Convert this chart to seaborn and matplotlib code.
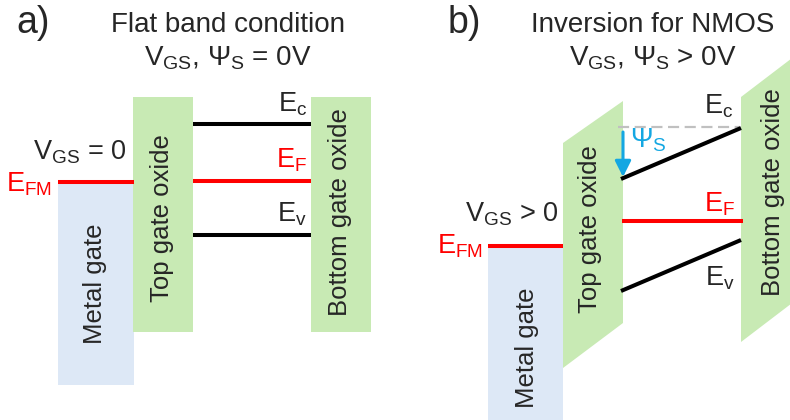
import matplotlib
matplotlib.use("Agg")
import matplotlib.pyplot as plt
import seaborn as sns

sns.set_theme(style="white")
plt.rcParams["font.family"] = ["Liberation Sans", "DejaVu Sans"]
plt.rcParams["mathtext.fontset"] = "custom"
plt.rcParams["mathtext.rm"] = "Liberation Sans"
plt.rcParams["mathtext.it"] = "Liberation Sans"
plt.rcParams["mathtext.bf"] = "Liberation Sans:bold"

# ---------------- data (diagram units: x to the right, y downward) ----------------
# panel a : flat band
a_metal_x = [58, 134]
a_metal_y = [182, 385]
a_topox_x = [133, 193]
a_topox_y = [97, 332]
a_botox_x = [311, 371]
a_botox_y = [97, 332]
a_channel_x = [193, 311]
a_ec = [124, 124]
a_ef = [181, 181]
a_ev = [235, 235]
a_efm = [182, 182]

# panel b : inversion
b_metal_x = [488, 563]
b_metal_y = [246, 430]
b_topox_x = [563, 623, 623, 563]
b_topox_y = [143, 101, 323, 368]
b_botox_x = [741, 800, 800, 741]
b_botox_y = [97, 52, 297, 342]
b_channel_x = [621, 741]
b_ef_x = [622, 743]
b_ec = [179, 128]
b_ef = [221, 221]
b_ev = [291, 240]
b_efm = [246, 246]
b_ref_x = [618, 740]
b_ref_y = [127, 127]
b_psi_arrow_y = [132, 177]

titles = ["Flat band condition", "Inversion for NMOS"]
subtitles = [r"V$_{\mathregular{GS}}$, Ψ$_{\mathregular{S}}$ = 0V",
             r"V$_{\mathregular{GS}}$, Ψ$_{\mathregular{S}}$ > 0V"]
vgs_labels = [r"V$_{\mathregular{GS}}$ = 0", r"V$_{\mathregular{GS}}$ > 0"]

BLUE_FILL = "#dde8f6"
GREEN_FILL = "#c8eab4"
RED = "#ff0000"
CYAN = "#14a7e2"
LW = 2.9

fig = plt.figure(figsize=(7.9, 4.2), dpi=100)
ax = fig.add_axes([0, 0, 1, 1])
ax.set_xlim(0, 790)
ax.set_ylim(420, 0)
ax.axis("off")

def rect(xs, ys, color):
    ax.fill([xs[0], xs[1], xs[1], xs[0]], [ys[0], ys[0], ys[1], ys[1]],
            color=color, lw=0, zorder=1)

def hline(xs, ys, color):
    sns.lineplot(x=xs, y=ys, color=color, linewidth=LW, ax=ax, legend=False,
                 zorder=3, solid_capstyle="butt")

# ---- panel a ----
rect(a_metal_x, a_metal_y, BLUE_FILL)
rect(a_topox_x, a_topox_y, GREEN_FILL)
rect(a_botox_x, a_botox_y, GREEN_FILL)
hline(a_metal_x, a_efm, RED)
hline(a_channel_x, a_ec, "black")
hline(a_channel_x, a_ef, RED)
hline(a_channel_x, a_ev, "black")

# ---- panel b ----
rect(b_metal_x, b_metal_y, BLUE_FILL)
ax.fill(b_topox_x, b_topox_y, color=GREEN_FILL, lw=0, zorder=1)
ax.fill(b_botox_x, b_botox_y, color=GREEN_FILL, lw=0, zorder=1)
hline(b_metal_x, b_efm, RED)
hline(b_channel_x, b_ec, "black")
hline(b_ef_x, b_ef, RED)
hline(b_channel_x, b_ev, "black")
sns.lineplot(x=b_ref_x, y=b_ref_y, color="#c0c0c0", linewidth=1.6, ax=ax,
             legend=False, zorder=2, dashes=False)
ax.lines[-1].set_dashes([5, 2.5])
ax.annotate("", xy=(623, b_psi_arrow_y[1]), xytext=(623, b_psi_arrow_y[0]),
            arrowprops=dict(arrowstyle="-|>,head_length=0.8,head_width=0.4",
                            color=CYAN, lw=2.2, shrinkA=0, shrinkB=0), zorder=4)

# ---- texts ----
FS_T = 20
FS_L = 19.5
FS_R = 18.5
for cx, t, s in [(228, titles[0], subtitles[0]), (653, titles[1], subtitles[1])]:
    ax.text(cx, 32, t, fontsize=FS_T, ha="center", va="baseline")
    ax.text(cx, 65, s, fontsize=FS_T, ha="center", va="baseline")
ax.text(16, 33, "a)", fontsize=27, ha="left", va="baseline")
ax.text(448, 33, "b)", fontsize=27, ha="left", va="baseline")

# panel a labels
ax.text(33, 160, vgs_labels[0], fontsize=FS_L, ha="left", va="baseline")
ax.text(52, 191, r"E$_{\mathregular{FM}}$", fontsize=FS_L, color=RED, ha="right", va="baseline")
ax.text(307, 111, r"E$_{\mathregular{c}}$", fontsize=FS_L, ha="right", va="baseline")
ax.text(307, 168, r"E$_{\mathregular{F}}$", fontsize=FS_L, color=RED, ha="right", va="baseline")
ax.text(307, 222, r"E$_{\mathregular{v}}$", fontsize=FS_L, ha="right", va="baseline")
ax.text(95, 284, "Metal gate", fontsize=FS_R, rotation=90, ha="center", va="center")
ax.text(162, 218, "Top gate oxide", fontsize=FS_R, rotation=90, ha="center", va="center")
ax.text(340, 212, "Bottom gate oxide", fontsize=FS_R, rotation=90, ha="center", va="center")

# panel b labels
ax.text(558, 222, vgs_labels[1], fontsize=FS_L, ha="right", va="baseline")
ax.text(483, 253, r"E$_{\mathregular{FM}}$", fontsize=FS_L, color=RED, ha="right", va="baseline")
ax.text(733, 114, r"E$_{\mathregular{c}}$", fontsize=FS_L, ha="right", va="baseline")
ax.text(735, 212, r"E$_{\mathregular{F}}$", fontsize=FS_L, color=RED, ha="right", va="baseline")
ax.text(735, 285, r"E$_{\mathregular{v}}$", fontsize=FS_L, ha="right", va="baseline")
ax.text(630, 147, r"Ψ$_{\mathregular{S}}$", fontsize=FS_L, color=CYAN, ha="left", va="baseline")
ax.text(527, 348, "Metal gate", fontsize=FS_R, rotation=90, ha="center", va="center")
ax.text(590, 229, "Top gate oxide", fontsize=FS_R, rotation=90, ha="center", va="center")
ax.text(773, 192, "Bottom gate oxide", fontsize=FS_R, rotation=90, ha="center", va="center")

fig.savefig("out.png", dpi=100)
